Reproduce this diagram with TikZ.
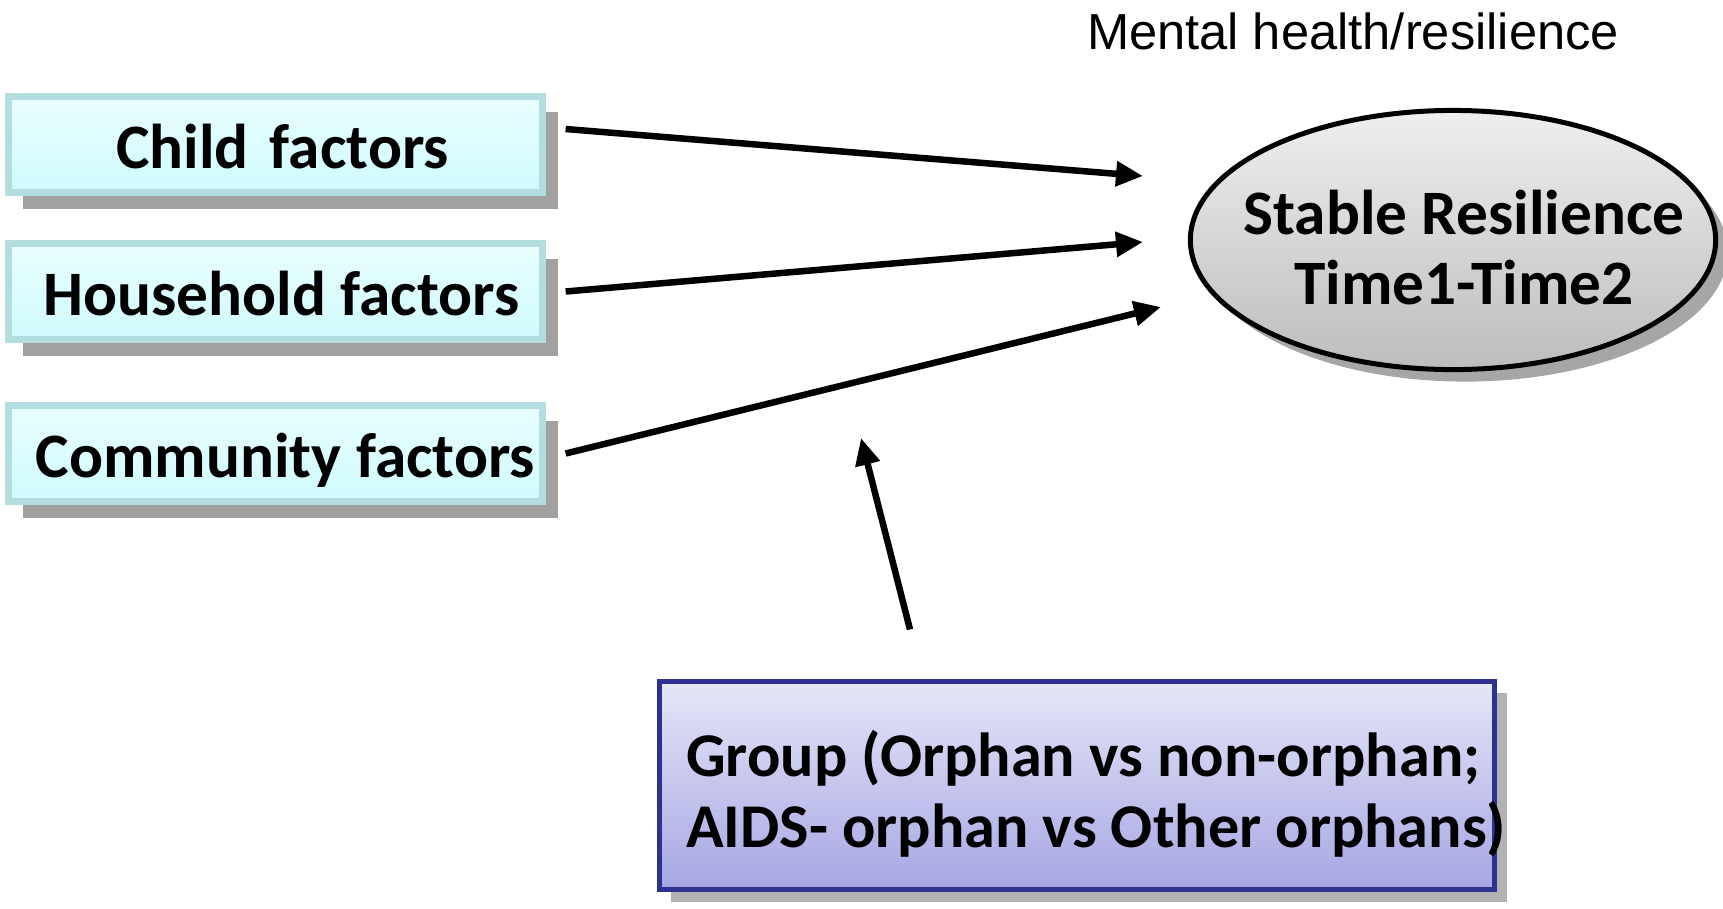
\documentclass[tikz,border=0pt]{standalone}
\usepackage{fontspec}
\setmainfont{Carlito}
\newfontfamily\titlefont{Liberation Sans}
\usetikzlibrary{arrows.meta,shapes.geometric,shadows}
\definecolor{boxtop}{HTML}{E9FEFF}
\definecolor{boxbot}{HTML}{CFFBFD}
\definecolor{boxline}{HTML}{B4DDE0}
\definecolor{grptop}{HTML}{E6E6F8}
\definecolor{grpbot}{HTML}{A6A6E4}
\definecolor{grpline}{HTML}{2E3192}
\definecolor{elltop}{HTML}{EFEFEF}
\definecolor{ellbot}{HTML}{BDBDBD}
\tikzset{
  factor/.style={draw=boxline, line width=0.07cm, top color=boxtop, bottom color=boxbot,
    minimum width=5.34cm, minimum height=0.96cm, inner sep=0pt,
    text height=13.5pt, text depth=0pt,
    font=\fontsize{18}{21}\selectfont\bfseries,
    drop shadow={shadow xshift=0.15cm, shadow yshift=-0.16cm, fill=black!37, opacity=1}},
  outcome/.style={ellipse, draw=black, line width=0.05cm, top color=elltop, bottom color=ellbot,
    minimum width=5.25cm, minimum height=2.59cm, inner xsep=-0.6cm, inner ysep=-0.2cm, align=center,
    font=\fontsize{18}{19.8}\selectfont\bfseries,
    drop shadow={shadow xshift=0.12cm, shadow yshift=-0.12cm, fill=black!35, opacity=1}},
  groupbox/.style={draw=grpline, line width=0.05cm, top color=grptop, bottom color=grpbot,
    minimum width=8.35cm, minimum height=2.08cm, text width=7.81cm, inner xsep=0.27cm, inner ysep=0pt,
    align=flush left, font=\fontsize{17.7}{20.2}\selectfont\bfseries,
    drop shadow={shadow xshift=0.12cm, shadow yshift=-0.12cm, fill=black!30, opacity=1}},
  arr/.style={line width=0.065cm, -{Triangle[length=0.27cm, width=0.24cm]}}
}
\begin{document}
\begin{tikzpicture}[x=0.01cm, y=-0.01cm]
  \useasboundingbox (0,0) rectangle (1723,908);
  \node[anchor=base, font=\titlefont\fontsize{14.4}{17}\selectfont] (title) at (1353,49) {Mental health/resilience};
  \node[factor] (child) at (275.5,144.5) {\hspace*{0.14cm}Child \hspace{0.07cm}factors};
  \node[factor] (house) at (275.5,291.5) {\hspace*{0.12cm}Household factors};
  \node[factor] (comm) at (275.5,453.5) {\hspace*{0.2cm}Community factors};
  \node[outcome] (stable) at (1453,240) {\rule{0pt}{17pt}\hspace*{0.22cm}Stable Resilience\\\hspace*{0.22cm}Time1-Time2};
  \node[groupbox] (group) at (1077,785.5) {\rule{0pt}{18pt}\mbox{Group (Orphan vs non-orphan;}\\\mbox{AIDS- orphan vs Other orphans)}};
  \coordinate (tip1) at (1143,176);
  \coordinate (tip2) at (1143,242);
  \coordinate (tip3) at (1161,307);
  \coordinate (tip4) at (861,438);
  \draw[arr] (child.east) ++(19.5,-15.5) -- (tip1);
  \draw[arr] (house.east) ++(19.5,0) -- (tip2);
  \draw[arr] (comm.east) ++(19.5,0) -- (tip3);
  \draw[arr] (group.north) ++(-167,-49.5) -- (tip4);
\end{tikzpicture}
\end{document}
